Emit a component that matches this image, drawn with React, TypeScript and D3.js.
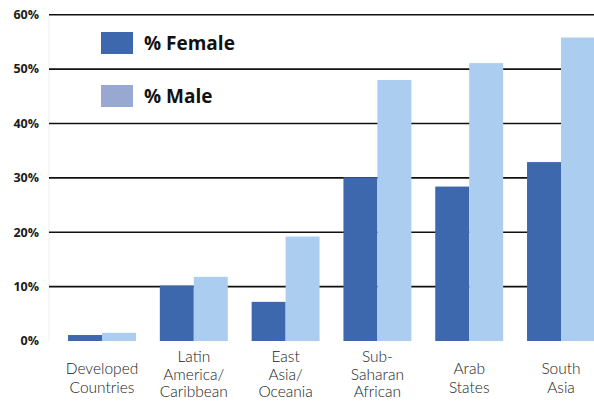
import React from 'react';
import * as d3 from 'd3';

const categories = [
  'Developed\nCountries',
  'Latin\nAmerica/\nCaribbean',
  'East\nAsia/\nOceania',
  'Sub-\nSaharan\nAfrican',
  'Arab\nStates',
  'South\nAsia',
];
const female = [1.1, 10.2, 7.2, 30.1, 28.4, 32.9];
const male = [1.5, 11.8, 19.2, 48.0, 51.1, 55.8];
const yTicks = [0, 10, 20, 30, 40, 50, 60];
const legendItems = ['% Female', '% Male'];

const width = 594;
const height = 402;
const FEMALE = '#3d68ad';
const MALE = '#abcdef';
const MALE_LEGEND = '#98a8d1';

const App: React.FC = () => {
  const x = d3.scaleBand<string>()
    .domain(categories)
    .range([56.1, 606.9])
    .paddingInner(0.26)
    .paddingOuter(0.13);
  const y = d3.scaleLinear().domain([0, 60]).range([341, 14.7]);
  const bw = x.bandwidth() / 2;
  const gridLeft = 49;

  return (
    <div style={{ position: 'fixed', left: 0, top: 0 }}>
      <svg width={width} height={height} viewBox={`0 0 ${width} ${height}`} style={{ display: 'block', background: '#fff' }}>
        {/* faint left edge */}
        <line x1={gridLeft} x2={gridLeft} y1={y(60)} y2={y(0)} stroke="#eeeeee" strokeWidth={1} />

        {/* grid + y labels */}
        {yTicks.map(t => (
          <g key={t}>
            {t > 0 && (
              <line x1={gridLeft} x2={width} y1={y(t)} y2={y(t)} stroke="#111" strokeWidth={1.6} />
            )}
            <text
              x={39}
              y={y(t)}
              dy="0.35em"
              textAnchor="end"
              fontFamily="'Open Sans', sans-serif"
              fontWeight={700}
              fontSize={12.5}
              fill="#1a1a1a"
            >
              {t}%
            </text>
          </g>
        ))}

        {/* bars */}
        {categories.map((c, i) => (
          <g key={c}>
            <rect x={x(c)!} y={y(female[i])} width={bw} height={y(0) - y(female[i])} fill={FEMALE} />
            <rect x={x(c)! + bw} y={y(male[i])} width={bw} height={y(0) - y(male[i])} fill={MALE} />
          </g>
        ))}

        {/* category labels */}
        {categories.map(c => {
          const lines = c.split('\n');
          const lh = lines.length > 2 ? 17.5 : 19;
          const first = lines.length > 2 ? 362 : 373.5;
          const cx = x(c)! + x.bandwidth() / 2;
          return (
            <text
              key={c}
              x={cx}
              textAnchor="middle"
              fontFamily="Lato, sans-serif"
              fontWeight={300}
              fontSize={15.5}
              fill="#222"
            >
              {lines.map((l, j) => (
                <tspan key={j} x={cx} y={first + j * lh}>{l}</tspan>
              ))}
            </text>
          );
        })}

        {/* legend */}
        {legendItems.map((name, i) => (
          <g key={name} transform={`translate(101, ${32 + i * 53})`}>
            <rect width={32} height={22} fill={i === 0 ? FEMALE : MALE_LEGEND} />
            <text
              x={43}
              y={18}
              fontFamily="'Open Sans', sans-serif"
              fontWeight={700}
              fontSize={19}
              fill="#111"
            >
              {name}
            </text>
          </g>
        ))}
      </svg>
    </div>
  );
};

export default App;
